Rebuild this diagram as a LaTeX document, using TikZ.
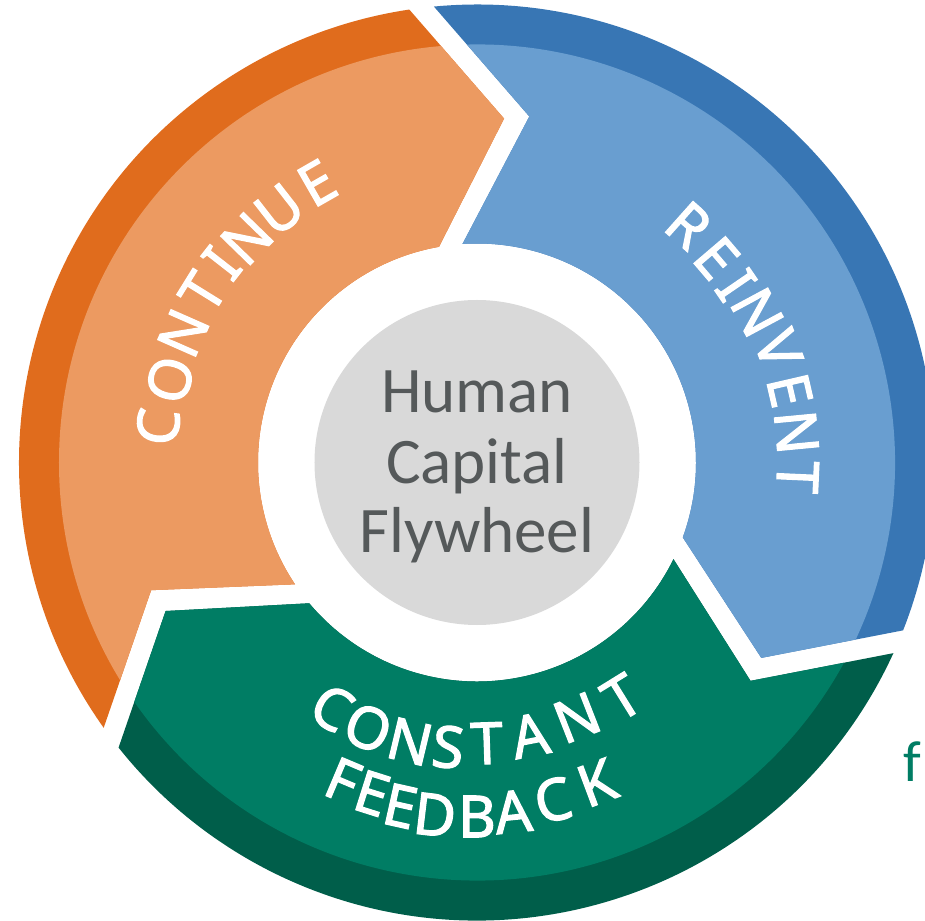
\documentclass[tikz,border=0pt]{standalone}
\usepackage{fontspec}
\setmainfont{Noto Sans}
\newfontfamily\labelfont[FakeBold=2]{Noto Sans}
\newfontfamily\hubfont{Carlito}
\definecolor{orDark}{RGB}{224,108,29}
\definecolor{orLight}{RGB}{236,154,97}
\definecolor{blDark}{RGB}{56,118,180}
\definecolor{blLight}{RGB}{105,158,208}
\definecolor{grMain}{RGB}{0,125,100}
\definecolor{grDark}{RGB}{0,94,74}
\definecolor{hubGray}{RGB}{217,217,217}
\definecolor{txtGray}{RGB}{85,89,90}
\tikzset{
  segpath/.style={insert path={(98.5:458) -- (85.5:345) -- (100:219)
     arc[start angle=100,end angle=213.8,radius=219] -- (201.4:350) -- (215.4:458)
     arc[start angle=215.4,end angle=98.5,radius=458] -- cycle}},
  lbl/.style={inner sep=0pt, text=white, font=\labelfont\fontsize{58}{58}\selectfont},
  hubtxt/.style={inner sep=0pt, anchor=base, text=txtGray, font=\hubfont\fontsize{65}{65}\selectfont}
}
\begin{document}
\begin{tikzpicture}[x=1pt,y=1pt]
\useasboundingbox (-477,-457.5) rectangle (448,462.5);
% orange segment
\fill[orDark, segpath];
\begin{scope}
  \clip (0,0) circle[radius=418];
  \fill[orLight, segpath];
\end{scope}
% blue segment
\begin{scope}[rotate=-120]
  \fill[blDark, segpath];
  \begin{scope}
    \clip (0,0) circle[radius=418];
    \fill[blLight, segpath];
  \end{scope}
\end{scope}
% green segment
\begin{scope}[rotate=120]
  \fill[grDark, segpath];
  \begin{scope}
    \clip (0,0) circle[radius=418];
    \fill[grMain, segpath];
  \end{scope}
\end{scope}
% hub
\node[circle, fill=hubGray, minimum size=325pt, inner sep=0pt] (hub) at (0,0) {};
\node[hubtxt] (hub1) at (0,49.5) {Human};
\node[hubtxt] (hub2) at (0,-21.5) {Capital};
\node[hubtxt] (hub3) at (0,-89.5) {Flywheel};
% CONTINUE
\foreach \a/\r/\l [count=\i] in {173.6/321/C,164.9/318/O,156.2/321/N,148.2/323/T,142.0/324/I,135.8/321/N,128.0/321/U,119.8/322/E}
  \node[lbl, rotate=\a-90] (cont\i) at (\a:\r) {\l};
% REINVENT
\foreach \a/\r/\l [count=\i] in {48.3/318/R,40.5/315/E,34.4/314/I,28.2/318/N,20.6/322/V,13.0/321/E,5.4/321/N,-2.6/321/T}
  \node[lbl, rotate=\a-90] (rein\i) at (\a:\r) {\l};
% CONSTANT
\foreach \a/\r/\l [count=\i] in {239.4/285/C,247.7/287/O,256.5/287/N,264.2/286/S,272.0/281/T,281.0/278/A,291.4/274/N,301.7/276/T}
  \node[lbl, rotate=\a+90] (cons\i) at (\a:\r) {\l};
% FEEDBACK
\foreach \a/\r/\l [count=\i] in {247.1/345/F,252.4/347/E,257.4/352/E,263.2/355/D,270.0/354/B,275.9/351/A,282.7/346/C,290.5/342/K}
  \node[lbl, rotate=\a+90] (feed\i) at (\a:\r) {\l};
% cut-off side text
\node[inner sep=0pt, anchor=base west, text=grMain, font=\hubfont\fontsize{58}{58}\selectfont] (side) at (426,-318.5) {f};
\end{tikzpicture}
\end{document}
